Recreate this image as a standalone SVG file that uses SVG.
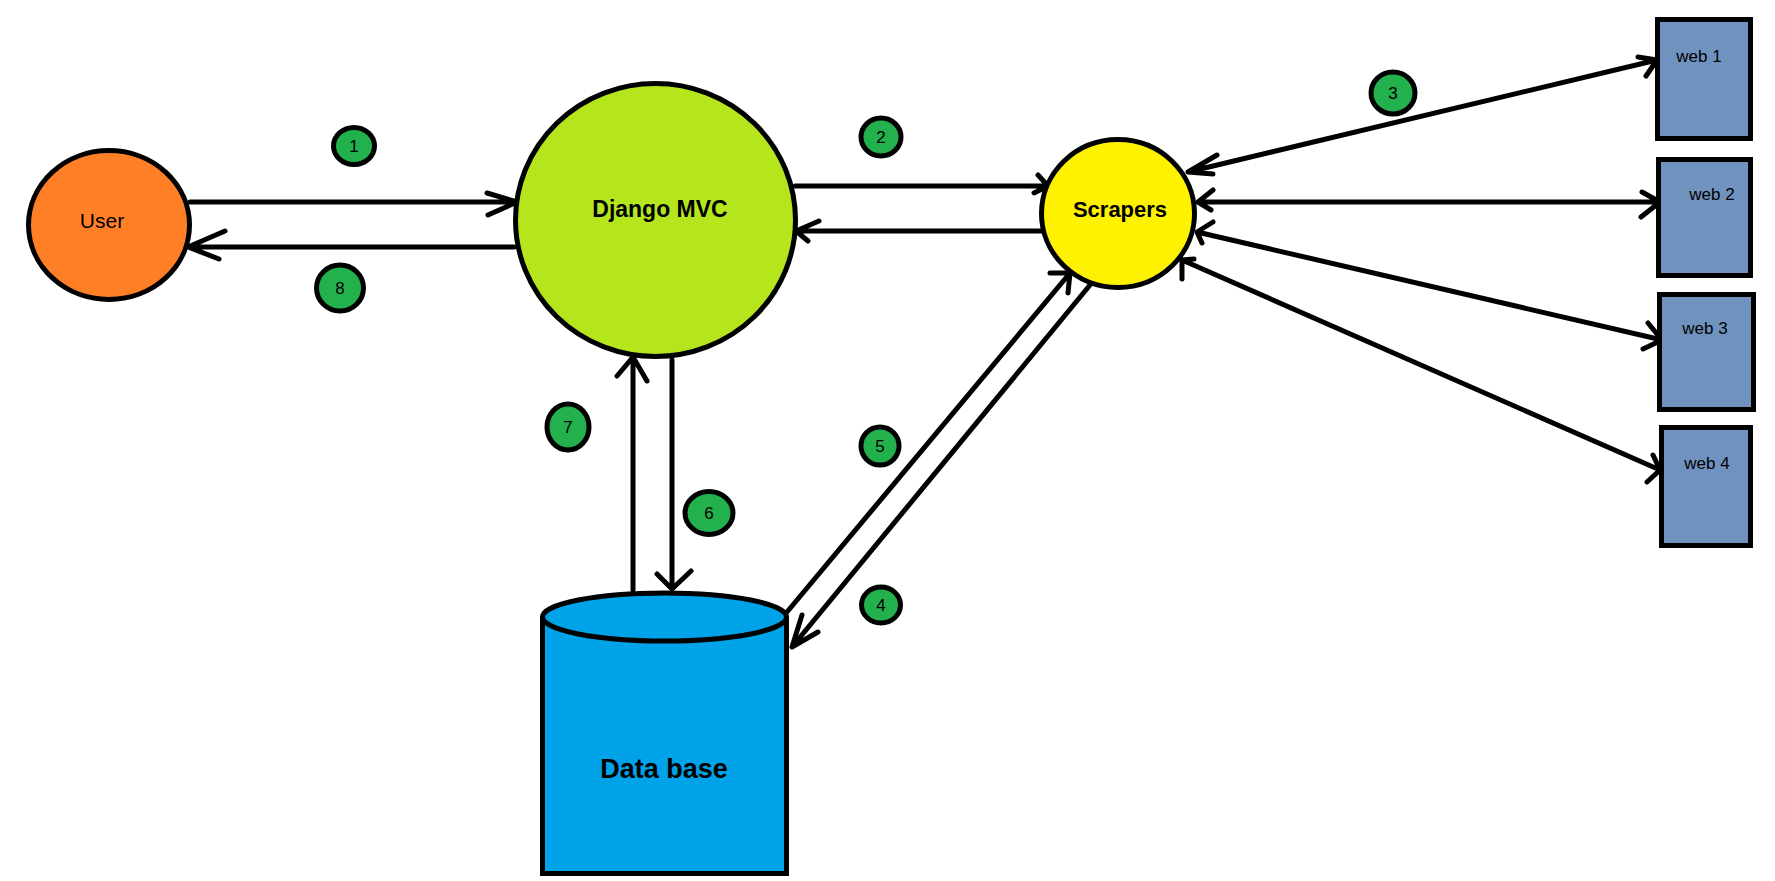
<svg xmlns="http://www.w3.org/2000/svg" width="1775" height="881" viewBox="0 0 1775 881">
<style>
.ln{stroke:#000;stroke-width:5;fill:none;stroke-linecap:round;stroke-linejoin:round}
.nd{stroke:#000;stroke-width:5}
.badge{fill:#22B14C;stroke:#000;stroke-width:5}
.bt{font-family:"Liberation Sans",Arial,sans-serif;font-size:17px;fill:#000;text-anchor:middle}
.lbl{font-family:"Liberation Sans",Arial,sans-serif;fill:#000;text-anchor:middle}
.web{fill:#7092BE;stroke:#000;stroke-width:5}
</style>
<rect width="1775" height="881" fill="#fff"/>
<g id="connectors">
  <path class="ln" d="M190,202 L517,202 M487,193 L517,202 L488,215"/>
  <path class="ln" d="M514,247 L188,247 M225,231 L188,247 L219,259"/>
  <path class="ln" d="M795,186 L1048,186 M1038,175 L1048,186 L1034,193"/>
  <path class="ln" d="M1042,231 L796,231 M819,221 L796,231 L808,241"/>
  <path class="ln" d="M633,590 L633,357 M617,376 L633,357 L647,381"/>
  <path class="ln" d="M672,360 L672,589 M657,574 L672,589 L691,571"/>
  <path class="ln" d="M787,612 L1070,273 M1050,273 L1070,273 L1068,293"/>
  <path class="ln" d="M1090,285 L792,647 M802,615 L792,647 L818,632"/>
  <path class="ln" d="M1188,172 L1657,60 M1217,155 L1188,172 L1213,174 M1638,57 L1657,60 L1646,76"/>
  <path class="ln" d="M1198,202 L1660,202 M1213,190 L1198,202 L1211,210 M1642,192 L1660,202 L1641,217"/>
  <path class="ln" d="M1197,232 L1662,340 M1213,222 L1197,232 L1202,243 M1648,323 L1662,340 L1643,349"/>
  <path class="ln" d="M1182,260 L1660,470 M1194,259 L1182,260 L1182,279 M1653,455 L1660,470 L1647,482"/>
</g>
<g id="user">
  <ellipse class="nd" cx="109" cy="225" rx="80.5" ry="74.5" fill="#FF7F27"/>
  <text class="lbl" x="102" y="228" font-size="21">User</text>
</g>
<g id="django">
  <ellipse class="nd" cx="655.5" cy="220" rx="140" ry="136.5" fill="#B5E61D"/>
  <text class="lbl" x="660" y="217" font-size="23" font-weight="bold">Django MVC</text>
</g>
<g id="scrapers">
  <ellipse class="nd" cx="1118" cy="213.5" rx="76.5" ry="74" fill="#FFF200"/>
  <text class="lbl" x="1120" y="217" font-size="22" font-weight="bold">Scrapers</text>
</g>
<g id="database">
  <path class="nd" d="M542.5,617 L542.5,873.5 L786.5,873.5 L786.5,617" fill="#00A2E8"/>
  <ellipse class="nd" cx="664.5" cy="617" rx="122" ry="24" fill="#00A2E8"/>
  <text class="lbl" x="664" y="778" font-size="27" font-weight="bold">Data base</text>
</g>
<g id="web1">
  <rect class="web" x="1657.5" y="19.5" width="93" height="119"/>
  <text class="lbl" x="1699" y="62" font-size="17">web 1</text>
</g>
<g id="web2">
  <rect class="web" x="1658.5" y="159.5" width="92" height="116"/>
  <text class="lbl" x="1712" y="200" font-size="17">web 2</text>
</g>
<g id="web3">
  <rect class="web" x="1659.5" y="294.5" width="94" height="115"/>
  <text class="lbl" x="1705" y="334" font-size="17">web 3</text>
</g>
<g id="web4">
  <rect class="web" x="1661.5" y="427.5" width="89" height="118"/>
  <text class="lbl" x="1707" y="469" font-size="17">web 4</text>
</g>
<g id="badge1"><ellipse class="badge" cx="354" cy="146" rx="20.5" ry="18.5"/><text class="bt" x="354" y="152">1</text></g>
<g id="badge2"><ellipse class="badge" cx="881" cy="137" rx="20" ry="19"/><text class="bt" x="881" y="143">2</text></g>
<g id="badge3"><ellipse class="badge" cx="1393" cy="93" rx="22" ry="21"/><text class="bt" x="1393" y="99">3</text></g>
<g id="badge4"><ellipse class="badge" cx="881" cy="605" rx="19.5" ry="18"/><text class="bt" x="881" y="611">4</text></g>
<g id="badge5"><ellipse class="badge" cx="880" cy="446" rx="19" ry="19"/><text class="bt" x="880" y="452">5</text></g>
<g id="badge6"><ellipse class="badge" cx="709" cy="513" rx="24" ry="21.5"/><text class="bt" x="709" y="519">6</text></g>
<g id="badge7"><ellipse class="badge" cx="568" cy="427" rx="21" ry="23"/><text class="bt" x="568" y="433">7</text></g>
<g id="badge8"><ellipse class="badge" cx="340" cy="288" rx="23.5" ry="23"/><text class="bt" x="340" y="294">8</text></g>
</svg>
